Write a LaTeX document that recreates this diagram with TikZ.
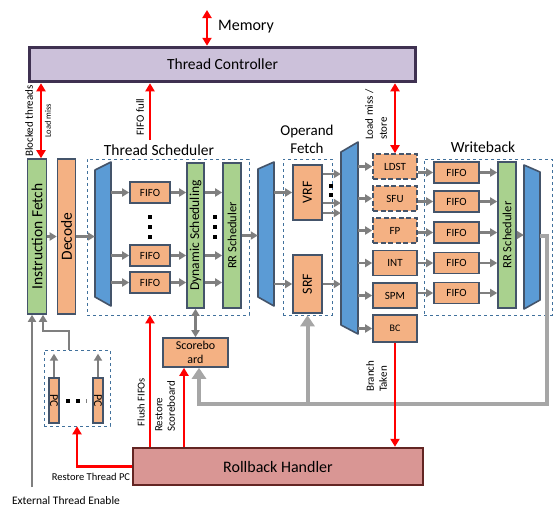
\documentclass[tikz,border=0pt]{standalone}
\usepackage{fontspec}
\setmainfont{Carlito}
\usepackage{graphicx}
\usetikzlibrary{arrows.meta,calc}
\definecolor{edge}{HTML}{44546A}
\definecolor{orng}{HTML}{F4B183}
\definecolor{grn}{HTML}{A9D18E}
\definecolor{muxb}{HTML}{5B9BD5}
\definecolor{lav}{HTML}{CCC1DA}
\definecolor{lavd}{HTML}{3F3151}
\definecolor{rose}{HTML}{D99694}
\definecolor{rosed}{HTML}{632523}
\definecolor{dashc}{HTML}{41719C}
\definecolor{gwire}{HTML}{7F7F7F}
\definecolor{gbus}{HTML}{A6A6A6}
\definecolor{sigred}{HTML}{FF0000}
\tikzset{
  sz/.style 2 args={minimum width=#1, minimum height=#2},
  fnt/.style 2 args={font=\fontsize{#1}{#2}\selectfont},
  blk/.style={draw=edge, line width=1.6pt, inner sep=0pt},
  obox/.style={blk, fill=orng},
  gbox/.style={blk, fill=grn},
  fu/.style={obox, dash pattern=on 5pt off 2.5pt},
  grp/.style={draw=dashc, dashed, line width=0.6pt, inner sep=0pt},
  mux/.style={draw=edge, fill=muxb, line width=1.6pt, line join=round},
  wire/.style={draw=gwire, line width=2.6pt, -{Triangle[length=7pt,width=8pt]}},
  wired/.style={wire, {Triangle[length=7pt,width=8pt]}-{Triangle[length=7pt,width=8pt]}},
  busl/.style={draw=gbus, line width=4pt, -{Triangle[length=11pt,width=14pt]}},
  sigl/.style={draw=sigred, line width=2.6pt, -{Triangle[length=8pt,width=9pt]}},
  sigd/.style={sigl, {Triangle[length=8pt,width=9pt]}-{Triangle[length=8pt,width=9pt]}},
  dotsq/.style={fill=black, inner sep=0pt, minimum size=4.5pt},
  lab/.style={inner sep=0pt, text=black},
}

\begin{document}
\begin{tikzpicture}[x=1pt, y=-1pt]
  \useasboundingbox[fill=white] (0,0) rectangle (554,515);
  % group frames
  \node[grp, sz={162}{156}] (tsbox) at (168,237) {};
  \node[grp, sz={49}{156}] (ofbox) at (307.5,237) {};
  \node[grp, sz={128}{156}] (wbbox) at (488,237) {};
  \node[grp, sz={66}{76}] (pcbox) at (77,388) {};
  \node[lab, fnt={15.5}{17}] (tstxt) at (159,150) {Thread Scheduler};
  \node[lab, fnt={15}{18}, align=center] (oftxt) at (307,139) {Operand\\Fetch};
  \node[lab, fnt={15.5}{17}] (wbtxt) at (483,147) {Writeback};

  % controller, memory
  \node[blk, fill=lav, draw=lavd, line width=3.5pt, sz={386}{34}, fnt={15.5}{17}] (tc) at (222.5,64.5) {Thread Controller};
  \node[lab, fnt={16}{18}] (mem) at (246,27) {Memory};
  \coordinate (memtop) at (207,10);

  % front end
  \node[gbox, sz={19}{155}, fnt={15.5}{17}] (ifu) at (37,236.5) {\rotatebox{90}{Instruction Fetch}};
  \node[obox, sz={18}{155}, fnt={15.5}{17}] (dec) at (66.5,236.5) {\rotatebox{90}{Decode}};

  % thread scheduler
  \draw[mux] (95,170) -- (111,162) -- (111,306) -- (95,297) -- cycle;
  \node[inner sep=0pt, sz={16}{144}] (m1) at (103,234) {};
  \foreach \n/\y in {1/192.5,2/255.5,3/282.5}
    \node[obox, sz={40}{21}, fnt={11}{12}] (fifo\n) at (150,\y) {FIFO};
  \node[gbox, sz={17}{145}, fnt={13.5}{15}] (ds) at (195.5,235.5) {\rotatebox{90}{Dynamic Scheduling}};
  \node[gbox, sz={18}{145}, fnt={12.5}{14}] (rr1) at (232,235.5) {\rotatebox{90}{RR Scheduler}};
  \foreach \y in {217,227,237} {
    \node[dotsq] (da\y) at (150,\y) {};
    \node[dotsq] (db\y) at (215,\y) {};
  }

  % operand fetch
  \draw[mux] (258,169) -- (274,162) -- (274,306) -- (258,297) -- cycle;
  \node[inner sep=0pt, sz={16}{144}] (m2) at (266,234) {};
  \node[obox, sz={29}{55}, fnt={14}{16}] (vrf) at (307.5,192.5) {\rotatebox{90}{VRF}};
  \node[obox, sz={29}{58}, fnt={14}{16}] (srf) at (307.5,284) {\rotatebox{90}{SRF}};
  \node[dotsq] (dv1) at (331,186) {};
  \node[dotsq] (dv2) at (331,195) {};

  % execute
  \draw[mux] (341,152) -- (358,142) -- (358,334) -- (341,325) -- cycle;
  \node[inner sep=0pt, sz={17}{182}] (m3) at (349.5,238) {};
  \foreach \n/\t/\y in {ldst/LDST/166.5, sfu/SFU/198.5, fp/FP/230.5}
    \node[fu, sz={44}{25}, fnt={11}{12}] (\n) at (395,\y) {\t};
  \foreach \n/\t/\y in {int/INT/263, spm/SPM/295.5}
    \node[obox, sz={44}{25}, fnt={11}{12}] (\n) at (395,\y) {\t};
  \node[obox, sz={44}{27}, fnt={10}{11}] (bc) at (395,328.5) {BC};

  % writeback
  \foreach \n/\y in {1/172.5,2/201.5,3/232.5,4/263,5/293}
    \node[obox, sz={45}{21}, fnt={11}{12}] (wf\n) at (456.5,\y) {FIFO};
  \node[gbox, sz={18}{146}, fnt={12.5}{14}] (rr2) at (507,235) {\rotatebox{90}{RR Scheduler}};
  \draw[mux] (524,165) -- (540,172) -- (540,300) -- (524,309) -- cycle;
  \node[inner sep=0pt, sz={16}{144}] (m4) at (532,236) {};

  % scoreboard, rollback, PCs
  \node[obox, sz={65}{29}, fnt={12}{14}, align=center] (sb) at (195.5,352.5) {Scorebo\\ard};
  \node[blk, fill=rose, draw=rosed, line width=2.4pt, sz={290}{37}, fnt={16}{18}] (rb) at (278,466.5) {Rollback Handler};
  \node[obox, sz={10}{45}, fnt={12}{13}] (pc1) at (54,400.5) {\rotatebox{-90}{PC}};
  \node[obox, sz={10}{45}, fnt={12}{13}] (pc2) at (98,400.5) {\rotatebox{-90}{PC}};
  \node[dotsq] (dp1) at (68,401) {};
  \node[dotsq] (dp2) at (78,401) {};
  \node[inner sep=0pt, fill=gwire, sz={1}{4}] (dp3) at (86,401) {};

  % pipeline arrows
  \draw[wire] (ifu.east) -- (dec.west);
  \draw[wire] (dec.east) -- (dec.east -| m1.west);
  \foreach \n in {1,2,3} {
    \draw[wire] (fifo\n.west -| m1.east) -- (fifo\n.west);
    \draw[wire] (fifo\n.east) -- (fifo\n.east -| ds.west);
    \draw[wire] (fifo\n.east -| ds.east) -- (fifo\n.east -| rr1.west);
  }
  \draw[wire] (rr1.east) -- (rr1.east -| m2.west);
  \draw[wire] (vrf.west -| m2.east) -- (vrf.west);
  \draw[wire] (srf.west -| m2.east) -- (srf.west);
  \draw[wire] ([yshift=18.5pt]vrf.east) -- ([yshift=18.5pt]vrf.east -| m3.west);
  \draw[wire] ([yshift=-10.5pt]vrf.east) -- ([yshift=-10.5pt]vrf.east -| m3.west);
  \draw[wire] ([yshift=-20.5pt]vrf.east) -- ([yshift=-20.5pt]vrf.east -| m3.west);
  \draw[wire] (srf.east) -- (srf.east -| m3.west);
  \foreach \n in {ldst,sfu,fp,int,spm,bc}
    \draw[wire] (\n.west -| m3.east) -- (\n.west);
  \foreach \u/\n in {ldst/1,sfu/2,fp/3,int/4,spm/5} {
    \draw[wire] (wf\n.west -| \u.east) -- (wf\n.west);
    \draw[wire] (wf\n.east) -- (wf\n.east -| rr2.west);
  }
  \draw[wire] (rr2.east) -- (rr2.east -| m4.west);
  \draw[wired] (ds.south) -- (sb.north);

  % result bus back to scoreboard and register files
  \coordinate (busr) at (547,404);
  \draw[busl] (m4.east) -| (busr) -| ([xshift=3.5pt]sb.south);
  \draw[busl] (ofbox.south |- busr) -- (ofbox.south);

  % thread PCs and enable
  \draw[wire] (pc1.north) -- ([yshift=-4pt]pc1.north |- pcbox.north);
  \draw[wire] (pc2.north) -- ([yshift=-4pt]pc2.north |- pcbox.north);
  \coordinate (pcj) at (43,331);
  \draw[wire] ([xshift=-8pt]pcbox.north) |- (pcj) -- ([xshift=6pt]ifu.south);
  \coordinate (ext) at (32,487);
  \draw[wire] (ext) -- (ext |- ifu.south);

  % control signals
  \draw[sigd] (memtop) -- (memtop |- tc.north);
  \draw[sigd] ([xshift=4pt]ifu.north) -- ([xshift=4pt]ifu.north |- tc.south);
  \coordinate (ffull) at (150,140);
  \draw[sigl] (ffull) -- (ffull |- tc.south);
  \draw[sigd] (ldst.north) -- (ldst.north |- tc.south);
  \draw[sigl] (fifo3.south |- rb.north) -- (fifo3.south |- tsbox.south);
  \draw[sigl] ([xshift=-11.5pt]sb.south |- rb.north) -- ([xshift=-11.5pt]sb.south);
  \draw[sigl] (bc.south) -- (bc.south |- rb.north);
  \draw[sigl] (rb.west) -| (pcbox.south);

  % signal labels
  \node[lab, fnt={11}{12}, rotate=90] (lblk) at (29,121) {Blocked threads};
  \node[lab, fnt={8.5}{10}, rotate=90] (lldm) at (48,121) {Load miss};
  \node[lab, fnt={11}{12}, rotate=90] (lff) at (140,117) {FIFO full};
  \node[lab, fnt={11}{14}, rotate=90, anchor=north west, align=left] (lls) at (365,140) {Load miss /\\store};
  \node[lab, fnt={11}{13}, rotate=90, anchor=north west, align=left] (lbt) at (366,392) {Branch\\Taken};
  \node[lab, fnt={10.5}{12}, rotate=90] (lfl) at (141,402) {Flush FIFOs};
  \node[lab, fnt={11}{12.5}, rotate=90, anchor=north west, align=left] (lrs) at (155,432) {Restore\\Scoreboard};
  \node[lab, fnt={10.5}{12}] (lrp) at (91,477) {Restore Thread PC};
  \node[lab, fnt={11.5}{13}] (lext) at (66,501) {External Thread Enable};
\end{tikzpicture}
\end{document}
